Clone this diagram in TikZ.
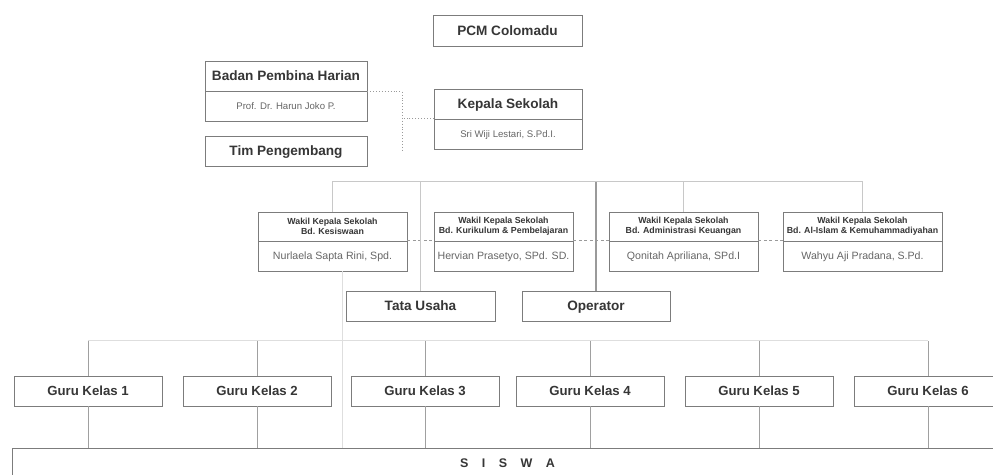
\documentclass[tikz,border=0pt]{standalone}
\usepackage{fontspec}
\setmainfont{Liberation Sans}
\definecolor{boxc}{HTML}{7C7C7C}
\definecolor{txt}{HTML}{363636}
\definecolor{subt}{HTML}{666666}
\definecolor{litec}{HTML}{C8C8C8}
\definecolor{opc}{HTML}{9A9A9A}
\definecolor{guruc}{HTML}{A0A0A0}
\definecolor{faintc}{HTML}{DEDEDE}
\begin{document}
\begin{tikzpicture}[x=1pt,y=-1pt,
  box/.style={draw=boxc, line width=0.9pt, fill=white, inner sep=0pt, align=center},
  big/.style={box, font=\fontsize{13.6}{15}\selectfont\bfseries, text=txt, minimum height=30pt, text height=9.7pt, text depth=0pt},
  sub/.style={box, font=\fontsize{9.6}{11}\selectfont, text=subt, minimum height=30pt, text height=6.9pt, text depth=0pt},
  wh/.style={box, font=\fontsize{8.8}{10}\selectfont\bfseries, text=txt, minimum height=29pt},
  ws/.style={box, font=\fontsize{10.6}{12}\selectfont, text=subt, minimum height=30pt, text height=7.6pt, text depth=0pt},
  gbox/.style={box, font=\fontsize{13.2}{14}\selectfont\bfseries, text=txt, minimum height=30pt, minimum width=148pt, text height=9.4pt, text depth=0pt},
  dotl/.style={draw=opc, line width=0.9pt, dotted},
  dashl/.style={draw=opc, line width=0.8pt, dashed, dash pattern=on 3pt off 2.5pt},
  lite/.style={draw=litec, line width=0.9pt},
  opl/.style={draw=opc, line width=1.6pt},
  gl/.style={draw=guruc, line width=0.9pt},
  faint/.style={draw=faintc, line width=0.9pt}
]
\path[use as bounding box] (0,0) rectangle (993,474);
\clip (0,0) rectangle (993,474);

% top
\node[big, minimum width=149pt, minimum height=31pt] (pcm) at (507.5,30.5) {PCM Colomadu};
\node[big, minimum width=162pt] (bphh) at (286,76) {Badan Pembina Harian};
\node[sub, minimum width=162pt] (bphs) at (286,106) {Prof. Dr. Harun Joko P.};
\node[big, minimum width=162pt] (tim) at (286,151) {Tim Pengembang};
\node[big, minimum width=148pt] (ksh) at (508,104) {Kepala Sekolah};
\node[sub, minimum width=148pt] (kss) at (508,134) {Sri Wiji Lestari, S.Pd.I.};

\coordinate (dj) at (402,150);
\draw[dotl] (bphh.south east) -| (dj);
\draw[dotl] (kss.north west) -- (kss.north west -| dj);

% wakil
\node[wh, minimum width=149pt] (w1h) at (332.5,226.5) {Wakil Kepala Sekolah\\Bd. Kesiswaan};
\node[ws, minimum width=149pt] (w1s) at (332.5,256) {Nurlaela Sapta Rini, Spd.};
\node[wh, minimum width=139pt] (w2h) at (503.5,226.5) {Wakil Kepala Sekolah\\Bd. Kurikulum \& Pembelajaran};
\node[ws, minimum width=139pt] (w2s) at (503.5,256) {Hervian Prasetyo, SPd. SD.};
\node[wh, minimum width=149pt] (w3h) at (683.5,226.5) {Wakil Kepala Sekolah\\Bd. Administrasi Keuangan};
\node[ws, minimum width=149pt] (w3s) at (683.5,256) {Qonitah Apriliana, SPd.I};
\node[wh, minimum width=159pt] (w4h) at (862.5,226.5) {Wakil Kepala Sekolah\\Bd. Al-Islam \& Kemuhammadiyahan};
\node[ws, minimum width=159pt] (w4s) at (862.5,256) {Wahyu Aji Pradana, S.Pd.};

\draw[dashl] (w1s.north east) -- (w2s.north west);
\draw[dashl] (w2s.north east) -- (w3s.north west);
\draw[dashl] (w3s.north east) -- (w4s.north west);

\node[big, minimum width=149pt] (tu) at (420.5,306) {Tata Usaha};
\node[big, minimum width=148pt] (op) at (596,306) {Operator};

\draw[lite] (w1h.north) -- ++(0,-30) coordinate (barL) -| (w4h.north);
\draw[lite] (w3h.north) -- (w3h.north |- barL);
\draw[lite] (tu.north) -- (tu.north |- barL);
\draw[opl] (op.north) -- (op.north |- barL);

% siswa
\node[box, minimum width=990pt, minimum height=30pt, font=\fontsize{12.5}{14}\selectfont\bfseries, text=txt, text height=9pt, text depth=0pt] (siswa) at (507.5,463)
  {S\hspace{13.5pt}I\hspace{13.5pt}S\hspace{13.5pt}W\hspace{13.5pt}A};

\draw[faint] ([xshift=9.5pt]w1s.south) -- ([xshift=9.5pt]w1s.south |- siswa.north);

% guru
\foreach \i/\x in {1/88,2/257,3/425,4/590,5/759,6/928}{
  \node[gbox] (g\i) at (\x,391) {Guru Kelas \i};
  \draw[gl] (g\i.south) -- (g\i.south |- siswa.north);
  \draw[gl] (g\i.north) -- ([yshift=35pt]g\i.north);
}
\draw[faint] ([yshift=35pt]g1.north) -- ([yshift=35pt]g6.north);
\end{tikzpicture}
\end{document}
